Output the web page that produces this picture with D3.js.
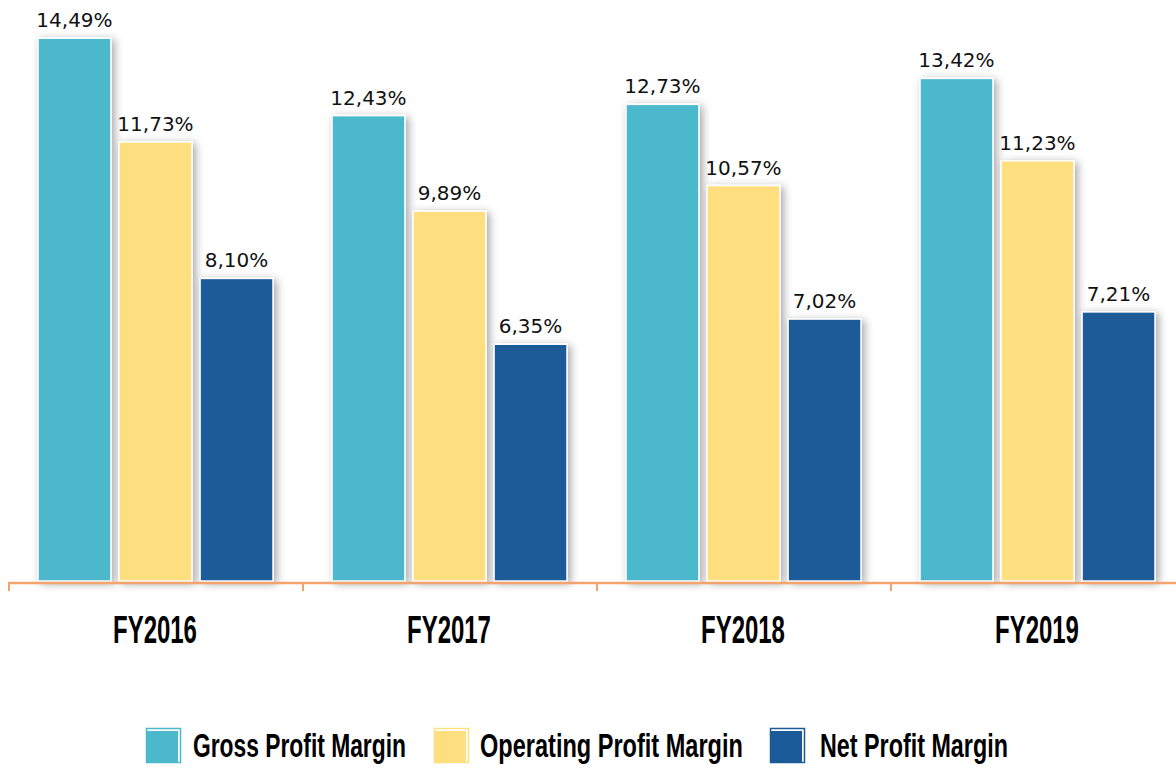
<!DOCTYPE html>
<html>
<head>
<meta charset="utf-8">
<script src="https://cdn.jsdelivr.net/npm/d3@7"></script>
<style>
  html, body { margin: 0; padding: 0; background: #fff; }
  svg { display: block; }
</style>
</head>
<body>
<svg id="chart" width="1176" height="768"></svg>
<script>
// Chart data
const years = ['FY2016', 'FY2017', 'FY2018', 'FY2019'];
const seriesNames = ['Gross Profit Margin', 'Operating Profit Margin', 'Net Profit Margin'];
const grossMargin = [14.49, 12.43, 12.73, 13.42];
const operatingMargin = [11.73, 9.89, 10.57, 11.23];
const netMargin = [8.10, 6.35, 7.02, 7.21];
const seriesColors = ['#4cb8cc', '#fddf80', '#1b5a98'];

const seriesValues = [grossMargin, operatingMargin, netMargin];
const rows = [];
years.forEach((year, i) => {
  seriesNames.forEach((name, j) => {
    rows.push({ year, series: name, value: seriesValues[j][i], color: seriesColors[j] });
  });
});

const svg = d3.select('#chart');
const baseline = 583;
const narrowFont = '"Liberation Sans Narrow", "Liberation Sans", sans-serif';

// squeeze a text horizontally to a given width (condensed display font look)
function fitWidth(sel, x, y, width, anchor) {
  sel.attr('text-anchor', 'start').each(function (d, i) {
    const w = this.getComputedTextLength();
    const tw = typeof width === 'function' ? width(d, i) : width;
    const tx = typeof x === 'function' ? x(d, i) : x;
    const left = anchor === 'middle' ? tx - tw / 2 : tx;
    d3.select(this).attr('transform', `translate(${left},${y}) scale(${tw / w},1)`);
  });
}

// Drop shadow for bars
const defs = svg.append('defs');
const shadow = defs.append('filter')
  .attr('id', 'barShadow')
  .attr('x', '-30%').attr('y', '-10%')
  .attr('width', '160%').attr('height', '130%');
shadow.append('feDropShadow')
  .attr('dx', 3).attr('dy', 2)
  .attr('stdDeviation', 4)
  .attr('flood-color', '#000')
  .attr('flood-opacity', 0.35);

// Scales
const x0 = d3.scaleBand()
  .domain(years)
  .range([8, 1184])
  .padding(0);

const x1 = d3.scaleBand()
  .domain(seriesNames)
  .range([30, 265])
  .paddingInner(0.1)
  .paddingOuter(0);

const y = d3.scaleLinear()
  .domain([0, 15])
  .range([baseline, baseline - 15 * 37.6]);

// Bars
const groups = svg.append('g').attr('class', 'bars')
  .selectAll('g')
  .data(years)
  .join('g')
  .attr('transform', d => `translate(${x0(d)},0)`);

groups.selectAll('rect')
  .data(yr => rows.filter(r => r.year === yr))
  .join('rect')
  .attr('x', d => x1(d.series))
  .attr('y', d => y(d.value))
  .attr('width', x1.bandwidth())
  .attr('height', d => y(0) - y(d.value) - 2)
  .attr('fill', d => d.color)
  .attr('stroke', '#fff')
  .attr('stroke-width', 1.5)
  .attr('filter', 'url(#barShadow)');

// Value labels
groups.selectAll('text')
  .data(yr => rows.filter(r => r.year === yr))
  .join('text')
  .attr('x', d => x1(d.series) + x1.bandwidth() / 2)
  .attr('y', d => y(d.value) - 11)
  .attr('text-anchor', 'middle')
  .style('font-family', '"DejaVu Sans", sans-serif')
  .style('font-size', '20px')
  .style('fill', '#111')
  .text(d => d.value.toFixed(2).replace('.', ',') + '%');

// Axis
const axis = svg.append('g')
  .attr('transform', `translate(0,${baseline})`)
  .call(d3.axisBottom(x0).tickSize(0).tickFormat(''));
axis.select('.domain').remove();
axis.selectAll('.tick').remove();

axis.append('line')
  .attr('x1', 8).attr('x2', 1184)
  .attr('y1', 0).attr('y2', 0)
  .attr('stroke', '#f2a46c')
  .attr('stroke-width', 2.5);

axis.selectAll('.boundary')
  .data(years)
  .join('line')
  .attr('class', 'boundary')
  .attr('x1', d => x0(d) + 1).attr('x2', d => x0(d) + 1)
  .attr('y1', 0).attr('y2', 8)
  .attr('stroke', '#f2a46c')
  .attr('stroke-width', 2);

axis.selectAll('.cat')
  .data(years)
  .join('text')
  .attr('class', 'cat')
  .style('font-family', narrowFont)
  .style('font-weight', 'bold')
  .style('font-size', '39px')
  .style('fill', '#000')
  .text(d => d)
  .call(fitWidth, d => x0(d) + x0.bandwidth() / 2, 60, 84, 'middle');

// Legend
const legendItems = [
  { box: 147, text: 193, width: 213 },
  { box: 435, text: 480, width: 263 },
  { box: 771, text: 820, width: 188 }
];
const legend = svg.append('g').attr('class', 'legend');
const li = legend.selectAll('g')
  .data(seriesNames)
  .join('g');

li.append('rect')
  .attr('x', (d, i) => legendItems[i].box - 0.5).attr('y', 728.5)
  .attr('width', 34).attr('height', 34)
  .attr('fill', 'none')
  .attr('stroke', (d, i) => seriesColors[i])
  .attr('stroke-width', 1.5);

li.append('rect')
  .attr('x', (d, i) => legendItems[i].box).attr('y', 731)
  .attr('width', 31).attr('height', 32)
  .attr('fill', (d, i) => seriesColors[i]);

li.append('text')
  .style('font-family', narrowFont)
  .style('font-weight', 'bold')
  .style('font-size', '33px')
  .style('fill', '#000')
  .text(d => d)
  .call(fitWidth, (d, i) => legendItems[i].text, 757, (d, i) => legendItems[i].width, 'start');
</script>
</body>
</html>
